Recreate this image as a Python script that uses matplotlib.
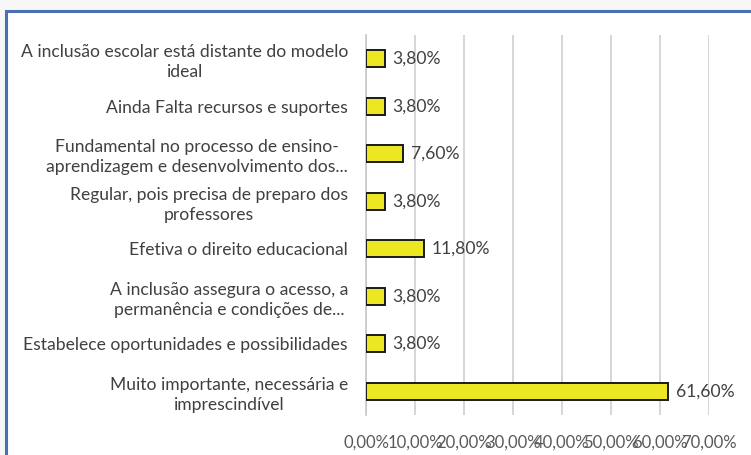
import matplotlib
matplotlib.use("Agg")
import matplotlib.pyplot as plt
from matplotlib.patches import Rectangle
from matplotlib.ticker import FuncFormatter, MultipleLocator

categories = [
    "A inclusão escolar está distante do modelo\nideal",
    "Ainda Falta recursos e suportes",
    "Fundamental no processo de ensino-\naprendizagem e desenvolvimento dos...",
    "Regular, pois precisa de preparo dos\nprofessores",
    "Efetiva o direito educacional",
    "A inclusão assegura o acesso, a\npermanência e condições de...",
    "Estabelece oportunidades e possibilidades",
    "Muito importante, necessária e\nimprescindível",
]
values = [3.8, 3.8, 7.6, 3.8, 11.8, 3.8, 3.8, 61.6]

W, H = 751, 455
FS = 12.6
fig = plt.figure(figsize=(W / 100, H / 100), dpi=100)
fig.patch.set_facecolor("#f7f7f7")

# white panel with blue border (extends off the right/bottom edges)
fig.add_artist(Rectangle((6 / W, -0.1), 1.2, 1 - 11 / H + 0.1, transform=fig.transFigure,
                         facecolor="white", edgecolor="#4a6fb5", linewidth=2.2, zorder=0))

ax = fig.add_axes([366 / W, 1 - 415 / H, (709 - 366) / W, (415 - 35) / H])
ax.set_facecolor("none")

y = list(range(len(categories)))
ax.barh(y, values, height=0.36, color="#ebe723", edgecolor="#1a1a1a", linewidth=1.4, zorder=3)
for yi, v in zip(y, values):
    ax.text(v + 1.6, yi, f"{v:.2f}%".replace(".", ","), va="center", ha="left",
            fontsize=FS, color="#404040", family="Lato")

ax.set_xlim(0, 70)
ax.set_ylim(len(categories) - 0.5, -0.5)
ax.xaxis.set_major_locator(MultipleLocator(10))
ax.xaxis.set_major_formatter(FuncFormatter(lambda v, p: f"{v:.2f}%".replace(".", ",")))
ax.grid(axis="x", color="#d0d0d0", linewidth=1.2, zorder=0)
ax.set_yticks(y)
ax.set_yticklabels(categories, fontsize=FS, color="#404040", family="Lato",
                   multialignment="center", linespacing=1.3)
ax.tick_params(axis="y", length=0, pad=13)
ax.tick_params(axis="x", length=0, pad=14, labelsize=12, labelcolor="#595959")
for lab in ax.get_xticklabels():
    lab.set_family("Lato")
for s in ["top", "right", "bottom"]:
    ax.spines[s].set_visible(False)
ax.spines["left"].set_color("#c8c8c8")
ax.spines["left"].set_linewidth(1.2)

fig.savefig("out.png", dpi=100, facecolor=fig.get_facecolor())
